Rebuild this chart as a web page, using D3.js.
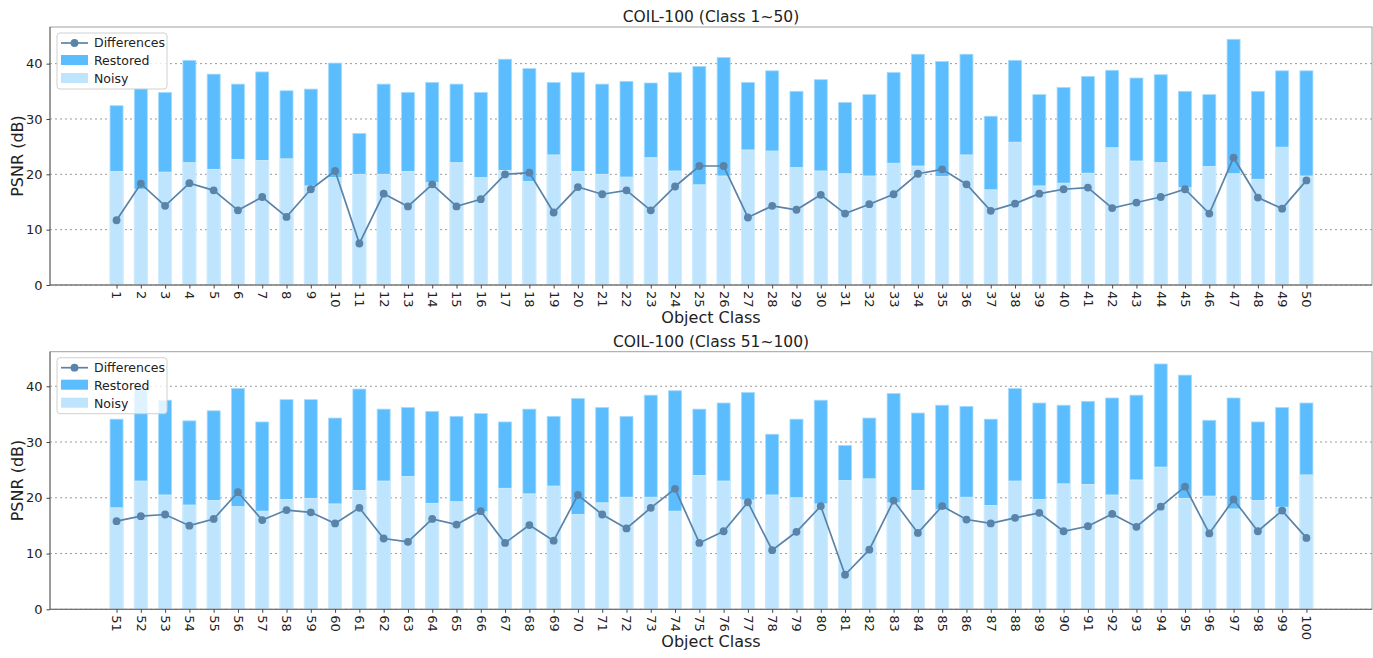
<!DOCTYPE html>
<html>
<head>
<meta charset="utf-8">
<title>COIL-100 PSNR</title>
<script src="https://d3js.org/d3.v7.min.js"></script>
<style>
  body { margin: 0; background: #fff; font-family: "DejaVu Sans", sans-serif; }
  .grid line { stroke: #9a9a9a; stroke-dasharray: 2,3; stroke-width: 1; }
  .tick text { fill: #222; }
</style>
</head>
<body>
<div id="viz"></div>
<script>
// classes 1..50
var classesA = d3.range(1, 51);
var restoredA = [32.4,35.5,34.8,40.6,38.1,36.3,38.5,35.1,35.4,40.1,
                 27.4,36.3,34.8,36.6,36.3,34.8,40.8,39.1,36.6,38.4,
                 36.3,36.8,36.5,38.4,39.5,41.1,36.6,38.7,35.0,37.1,
                 33.0,34.4,38.4,41.7,40.4,41.7,30.5,40.6,34.4,35.7,
                 37.7,38.8,37.4,38.0,35.0,34.4,44.4,35.0,38.7,38.7];
var noisyA = [20.5,17.3,20.4,22.1,20.9,22.7,22.5,22.8,17.9,19.4,
              20.0,20.0,20.5,18.5,22.1,19.4,20.7,18.7,23.5,20.5,
              20.0,19.5,23.0,20.6,18.1,19.7,24.4,24.2,21.2,20.6,
              20.1,19.7,22.0,21.5,19.6,23.5,17.2,25.8,17.9,18.4,
              20.2,24.8,22.4,22.1,17.6,21.4,20.1,19.1,24.9,19.7];
var diffA = [11.7,18.3,14.3,18.4,17.1,13.5,15.9,12.3,17.3,20.6,
             7.5,16.5,14.2,18.2,14.2,15.5,20.0,20.3,13.1,17.7,
             16.4,17.1,13.5,17.8,21.5,21.5,12.2,14.3,13.6,16.3,
             12.9,14.6,16.4,20.1,20.9,18.2,13.4,14.7,16.5,17.3,
             17.6,13.9,14.9,15.9,17.3,12.9,23.0,15.8,13.8,18.9];

// classes 51..100
var classesB = d3.range(51, 101);
var restoredB = [34.1,39.9,37.5,33.8,35.6,39.6,33.6,37.6,37.6,34.3,
                 39.5,35.9,36.2,35.5,34.6,35.1,33.6,35.9,34.6,37.8,
                 36.2,34.6,38.4,39.2,35.9,37.0,38.9,31.4,34.1,37.5,
                 29.4,34.3,38.7,35.2,36.6,36.4,34.1,39.6,37.0,36.6,
                 37.3,37.9,38.4,44.0,42.0,33.9,37.9,33.6,36.2,37.0];
var noisyB = [18.2,23.0,20.5,18.7,19.5,18.4,17.6,19.7,19.9,18.9,
              21.3,23.0,23.8,19.0,19.3,17.5,21.7,20.7,22.1,17.0,
              19.1,20.1,20.1,17.6,24.0,23.0,19.6,20.5,20.0,18.9,
              23.1,23.4,19.1,21.3,17.9,20.1,18.6,23.0,19.7,22.5,
              22.4,20.5,23.2,25.5,19.9,20.3,18.0,19.5,18.3,24.1];
var diffB = [15.8,16.7,17.0,15.0,16.2,21.0,16.0,17.8,17.4,15.4,
             18.2,12.7,12.1,16.2,15.2,17.6,11.9,15.1,12.3,20.5,
             17.0,14.5,18.2,21.6,11.9,14.0,19.2,10.6,13.9,18.5,
             6.2,10.7,19.5,13.7,18.5,16.1,15.4,16.4,17.3,14.0,
             14.9,17.1,14.8,18.4,22.0,13.6,19.7,14.0,17.7,12.8];

var yTicks = [0, 10, 20, 30, 40];

var W = 1373, H = 658;
var colRestored = '#5bbdfe', colNoisy = '#bee5fd', colLine = '#5a83a9';

var svg = d3.select('#viz').append('svg')
    .attr('width', W).attr('height', H)
    .style('font-family', '"DejaVu Sans", sans-serif');

function panel(cls, restored, noisy, diff, title, top, bottom) {
  var left = 50, right = 1372;
  var x = d3.scaleLinear()
      .domain([cls[0] - 2.74, cls[cls.length - 1] + 2.7])
      .range([left, right]);
  var y = d3.scaleLinear()
      .domain([0, d3.max(restored) * 1.05])
      .range([bottom, top]);
  var bw = x(0.535) - x(0);

  var g = svg.append('g');

  // grid
  g.append('g').attr('class', 'grid')
    .selectAll('line').data(yTicks).enter().append('line')
    .attr('x1', left).attr('x2', right)
    .attr('y1', function(d){ return y(d); })
    .attr('y2', function(d){ return y(d); });

  // restored bars
  g.selectAll('.rest').data(cls).enter().append('rect')
    .attr('x', function(d){ return x(d) - bw / 2; })
    .attr('width', bw)
    .attr('y', function(d, i){ return y(restored[i]); })
    .attr('height', function(d, i){ return y(0) - y(restored[i]); })
    .attr('fill', colRestored)
    .attr('stroke', '#a6dbfd').attr('stroke-width', 0.8);

  // noisy bars
  g.selectAll('.noisy').data(cls).enter().append('rect')
    .attr('x', function(d){ return x(d) - bw / 2; })
    .attr('width', bw)
    .attr('y', function(d, i){ return y(noisy[i]); })
    .attr('height', function(d, i){ return y(0) - y(noisy[i]); })
    .attr('fill', colNoisy)
    .attr('stroke', '#d8effd').attr('stroke-width', 0.8);

  // differences line
  var line = d3.line()
    .x(function(d, i){ return x(cls[i]); })
    .y(function(d){ return y(d); });
  g.append('path').datum(diff)
    .attr('d', line).attr('fill', 'none')
    .attr('stroke', colLine).attr('stroke-width', 1.7);
  g.selectAll('.pt').data(diff).enter().append('circle')
    .attr('cx', function(d, i){ return x(cls[i]); })
    .attr('cy', function(d){ return y(d); })
    .attr('r', 3.9).attr('fill', colLine);

  // frame
  g.append('rect')
    .attr('x', left).attr('y', top)
    .attr('width', right - left).attr('height', bottom - top)
    .attr('fill', 'none').attr('stroke', '#a0a0a0').attr('stroke-width', 1);
  g.append('line').attr('x1', left).attr('x2', right)
    .attr('y1', bottom).attr('y2', bottom)
    .attr('stroke', '#666').attr('stroke-width', 1);
  g.append('line').attr('x1', left).attr('x2', left)
    .attr('y1', top).attr('y2', bottom)
    .attr('stroke', '#666').attr('stroke-width', 1);

  // y axis
  var ya = g.append('g')
    .attr('transform', 'translate(' + left + ',0)')
    .call(d3.axisLeft(y).tickValues(yTicks).tickSize(3.5).tickPadding(4));
  ya.select('.domain').remove();
  ya.selectAll('.tick line').attr('stroke', '#444');
  ya.selectAll('text').attr('font-size', 13).attr('font-family', '"DejaVu Sans", sans-serif');

  // x axis
  var xa = g.append('g')
    .attr('transform', 'translate(0,' + bottom + ')')
    .call(d3.axisBottom(x).tickValues(cls).tickFormat(d3.format('d')).tickSize(3.5));
  xa.select('.domain').remove();
  xa.selectAll('.tick line').attr('stroke', '#444');
  xa.selectAll('text')
    .attr('font-size', 13).attr('font-family', '"DejaVu Sans", sans-serif')
    .attr('transform', 'rotate(90)')
    .attr('text-anchor', 'start')
    .attr('x', 6).attr('y', 0).attr('dy', '0.35em');

  // titles
  g.append('text').attr('x', (left + right) / 2).attr('y', top - 5)
    .attr('text-anchor', 'middle').attr('font-size', 15.5).attr('fill', '#222')
    .text(title);
  g.append('text').attr('x', (left + right) / 2).attr('y', bottom + 38)
    .attr('text-anchor', 'middle').attr('font-size', 16).attr('fill', '#222')
    .text('Object Class');
  g.append('text')
    .attr('transform', 'translate(23,' + ((top + bottom) / 2) + ') rotate(-90)')
    .attr('text-anchor', 'middle').attr('font-size', 16).attr('fill', '#222')
    .text('PSNR (dB)');

  // legend
  var lg = g.append('g').attr('transform', 'translate(' + (left + 7) + ',' + (top + 6) + ')');
  lg.append('rect').attr('width', 110).attr('height', 56).attr('rx', 3)
    .attr('fill', 'rgba(255,255,255,0.8)').attr('stroke', '#d0d0d0');
  lg.append('line').attr('x1', 4).attr('x2', 31).attr('y1', 10).attr('y2', 10)
    .attr('stroke', colLine).attr('stroke-width', 1.7);
  lg.append('circle').attr('cx', 17.5).attr('cy', 10).attr('r', 3.9).attr('fill', colLine);
  lg.append('rect').attr('x', 4).attr('y', 22).attr('width', 27).attr('height', 10).attr('fill', colRestored);
  lg.append('rect').attr('x', 4).attr('y', 40).attr('width', 27).attr('height', 10).attr('fill', colNoisy);
  var labels = ['Differences', 'Restored', 'Noisy'];
  lg.selectAll('.lt').data(labels).enter().append('text')
    .attr('x', 37).attr('y', function(d, i){ return 10 + i * 18; })
    .attr('dy', '0.35em').attr('font-size', 12.5).attr('fill', '#222')
    .text(function(d){ return d; });
}

panel(classesA, restoredA, noisyA, diffA, 'COIL-100 (Class 1~50)', 27, 285);
panel(classesB, restoredB, noisyB, diffB, 'COIL-100 (Class 51~100)', 351.7, 609.3);
</script>
</body>
</html>
